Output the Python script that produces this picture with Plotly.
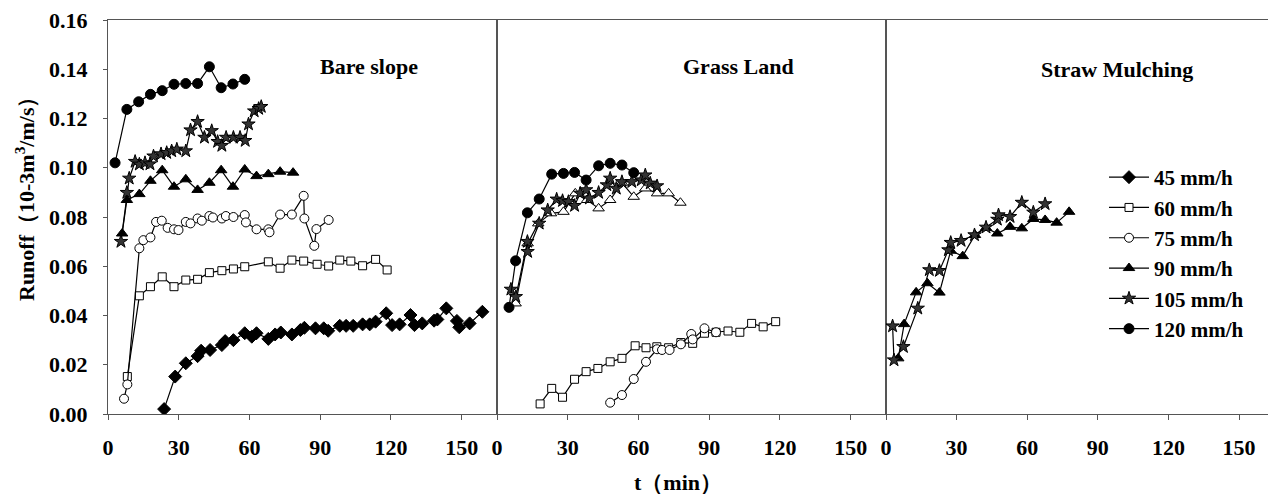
import plotly.graph_objects as go
from plotly.subplots import make_subplots

# ---------------- Data ----------------
# Bare slope
bare_45_t = [23.8, 28.5, 33, 38, 39.5, 43.3, 48.3, 49.7, 53.2, 58, 61, 63, 68, 70.9, 73.3, 78, 81.6, 83.3, 88, 91.5, 93.4,
             98.3, 101, 104, 108, 111, 113.5, 118, 120.5, 123.7, 128.3, 130, 133.3, 138.3, 139.7, 143.5, 148, 149, 153.4, 158.8]
bare_45_y = [0.002, 0.0152, 0.0206, 0.0235, 0.0257, 0.026, 0.028, 0.0296, 0.030, 0.0328, 0.0314, 0.0328, 0.0305, 0.0323, 0.0331,
             0.0323, 0.0341, 0.035, 0.0348, 0.0348, 0.0338, 0.0358, 0.0358, 0.0358, 0.0364, 0.0364, 0.0375, 0.0409, 0.0361, 0.0364,
             0.0402, 0.0361, 0.0368, 0.0379, 0.0384, 0.0429, 0.0378, 0.0352, 0.0368, 0.0415]

bare_60_t = [8.2, 13.3, 18, 23, 28, 33, 38, 43, 48.3, 53.2, 58, 68, 73, 78, 83, 88.7, 93.6, 98.3, 103, 108, 113.5, 118.4]
bare_60_y = [0.0152, 0.048, 0.0517, 0.0557, 0.0517, 0.0544, 0.0547, 0.0574, 0.0582, 0.0589, 0.0598, 0.0618, 0.0592, 0.0625,
             0.0621, 0.0608, 0.0601, 0.0625, 0.0621, 0.0602, 0.0628, 0.0585]

bare_75_t = [6.8, 8.2, 13.3, 15, 18, 20.4, 22.8, 25.3, 28, 29.9, 33, 35, 38, 39.8, 43, 44.5, 48.3, 50, 53.2, 58, 58.5,
             63, 68, 68.5, 73, 78, 83, 83.3, 87.5, 88.4, 93.6]
bare_75_y = [0.0062, 0.012, 0.0673, 0.0706, 0.0717, 0.078, 0.0785, 0.0756, 0.075, 0.0747, 0.078, 0.0774, 0.0794, 0.0785,
             0.0804, 0.0798, 0.0794, 0.0804, 0.0800, 0.0808, 0.0778, 0.075, 0.075, 0.0738, 0.081, 0.081, 0.0886, 0.0794,
             0.0683, 0.0751, 0.0788]

bare_90_t = [6, 8, 13.3, 18, 23, 28, 33, 38, 43, 48, 53, 58, 63, 68, 73, 78.5]
bare_90_y = [0.0733, 0.0869, 0.0893, 0.0947, 0.099, 0.0923, 0.0953, 0.091, 0.0939, 0.099, 0.0923, 0.0993, 0.0966, 0.0974,
             0.0984, 0.098]

bare_105_t = [5.5, 8, 9, 11.5, 13.3, 15.7, 17.8, 19.3, 22.5, 24.9, 27, 29.2, 33, 35, 38, 40.9, 44, 46.5, 48.3, 50.1, 53.2,
              56, 58.2, 59.6, 62, 63.9, 65]
bare_105_y = [0.070, 0.0899, 0.0957, 0.1025, 0.1014, 0.102, 0.1015, 0.1047, 0.1056, 0.1061, 0.1068, 0.1075, 0.1068, 0.1153,
              0.1187, 0.1123, 0.115, 0.1106, 0.109, 0.1123, 0.1123, 0.1123, 0.111, 0.1177, 0.123, 0.124, 0.1248]

bare_120_t = [3, 8, 13, 18, 23, 28, 33, 38, 43, 48, 53, 58]
bare_120_y = [0.102, 0.1237, 0.1268, 0.1298, 0.1313, 0.1339, 0.1342, 0.1342, 0.141, 0.1325, 0.134, 0.1359]

# Grass land
grass_60_t = [18.3, 23.2, 27.8, 32.9, 37.8, 42.8, 48, 53, 58.6, 63.2, 67.8, 72.8, 78, 83, 88, 92.9, 98, 103, 108, 112.9, 118.2]
grass_60_y = [0.0041, 0.0104, 0.0068, 0.0141, 0.0172, 0.0185, 0.0212, 0.0226, 0.0277, 0.0269, 0.0273, 0.0269, 0.029, 0.0287,
              0.0328, 0.0332, 0.0337, 0.0332, 0.0368, 0.0354, 0.0375]

grass_75_t = [48, 53, 58, 63.2, 67.9, 70, 73.2, 78, 82.4, 83, 88, 92.9]
grass_75_y = [0.0046, 0.0077, 0.0142, 0.0212, 0.0263, 0.026, 0.026, 0.0283, 0.0325, 0.0303, 0.0348, 0.0332]

grass_90_t = [7.9, 13, 17.5, 22.9, 28.2, 33.2, 38.2, 43.1, 48, 53, 58, 62.9, 67.9, 72.8, 77.8]
grass_90_y = [0.0449, 0.0693, 0.0774, 0.0815, 0.0821, 0.0896, 0.0869, 0.0835, 0.0869, 0.0939, 0.0882, 0.0916, 0.0896,
              0.0896, 0.0858]

grass_105_t = [5.9, 8, 12.9, 13, 17.9, 21.5, 25.3, 27.8, 30.3, 32.9, 35.3, 37.8, 39.2, 43.1, 46.6, 48, 50.6, 53, 57.2,
               61.2, 62.9, 65, 67.9]
grass_105_y = [0.0506, 0.0476, 0.070, 0.0659, 0.0774, 0.0828, 0.0872, 0.0866, 0.0862, 0.0846, 0.0896, 0.091, 0.0876,
               0.0899, 0.093, 0.0957, 0.0916, 0.0943, 0.0943, 0.095, 0.097, 0.0937, 0.0926]

grass_120_t = [5.1, 7.9, 12.9, 17.9, 23.2, 28.2, 32.9, 37.8, 43.1, 48, 53, 58]
grass_120_y = [0.0433, 0.0622, 0.0817, 0.0873, 0.0974, 0.0977, 0.0981, 0.095, 0.1008, 0.1018, 0.1011, 0.098]

# Straw mulching
straw_90_t = [5.2, 7.7, 12.8, 17.6, 22.7, 27.5, 32.6, 37.8, 42.5, 47.3, 52.7, 57.7, 62.6, 67.6, 72.5, 77.8]
straw_90_y = [0.0226, 0.0365, 0.0494, 0.0531, 0.0493, 0.0663, 0.0641, 0.0727, 0.0756, 0.0733, 0.076, 0.0754, 0.0792,
              0.0788, 0.0777, 0.0821]

straw_105_t = [2.8, 3.4, 7.4, 13.5, 18.4, 22.7, 26.5, 27.5, 31.9, 37.6, 42.5, 47.3, 47.8, 52.7, 57.7, 62.6, 67.6]
straw_105_y = [0.0357, 0.0219, 0.0273, 0.0429, 0.0585, 0.0582, 0.0666, 0.0696, 0.0704, 0.0727, 0.0758, 0.079, 0.0808,
               0.0801, 0.0859, 0.0819, 0.0853]

x_ticks = [0, 30, 60, 90, 120, 150]
y_ticks = [0.00, 0.02, 0.04, 0.06, 0.08, 0.10, 0.12, 0.14, 0.16]
panel_titles = ["Bare slope", "Grass Land", "Straw Mulching"]
legend_names = ["45 mm/h", "60 mm/h", "75 mm/h", "90 mm/h", "105 mm/h", "120 mm/h"]

# ---------------- Figure ----------------
FONT = "Times New Roman, Liberation Serif, serif"
AX = "#555555"

fig = make_subplots(rows=1, cols=3, shared_yaxes=True, horizontal_spacing=0,
                    column_widths=[389, 389, 382])

styles = {
    "45 mm/h": dict(symbol="diamond", size=10, color="black", line=dict(color="black", width=1)),
    "60 mm/h": dict(symbol="square", size=8, color="white", line=dict(color="black", width=1)),
    "75 mm/h": dict(symbol="circle", size=9, color="white", line=dict(color="black", width=1)),
    "90 mm/h": dict(symbol="triangle-up", size=10, color="black", line=dict(color="black", width=1)),
    "105 mm/h": dict(symbol="star", size=10, color="#333333", line=dict(color="black", width=1)),
    "120 mm/h": dict(symbol="circle", size=10, color="black", line=dict(color="black", width=1)),
}
open_tri = dict(symbol="triangle-up", size=10, color="white", line=dict(color="black", width=1))

def add(t, y, name, col, marker=None, show=False):
    fig.add_trace(go.Scatter(x=t, y=y, mode="lines+markers", name=name,
                             line=dict(color="black", width=1.2),
                             marker=marker or styles[name],
                             showlegend=show, legendgroup=name),
                  row=1, col=col)

# Bare slope
add(bare_45_t, bare_45_y, "45 mm/h", 1, show=True)
add(bare_60_t, bare_60_y, "60 mm/h", 1, show=True)
add(bare_75_t, bare_75_y, "75 mm/h", 1, show=True)
add(bare_90_t, bare_90_y, "90 mm/h", 1, show=True)
add(bare_105_t, bare_105_y, "105 mm/h", 1, show=True)
add(bare_120_t, bare_120_y, "120 mm/h", 1, show=True)
# Grass land
add(grass_60_t, grass_60_y, "60 mm/h", 2)
add(grass_75_t, grass_75_y, "75 mm/h", 2)
add(grass_90_t, grass_90_y, "90 mm/h", 2, marker=open_tri)
add(grass_105_t, grass_105_y, "105 mm/h", 2)
add(grass_120_t, grass_120_y, "120 mm/h", 2)
# Straw mulching
add(straw_90_t, straw_90_y, "90 mm/h", 3)
add(straw_105_t, straw_105_y, "105 mm/h", 3)

tickfont = dict(family=FONT, size=22, color="black", weight="bold")

x_ranges = [[0, 165], [0, 165], [0, 162.3]]
for i in range(3):
    fig.update_xaxes(range=x_ranges[i], tickvals=x_ticks, ticks="outside", ticklen=5, tickcolor=AX,
                     showline=True, linecolor=AX, linewidth=1, mirror=True, showgrid=False, zeroline=False,
                     tickfont=tickfont, ticklabelstandoff=9, automargin=False, row=1, col=i + 1)
fig.update_yaxes(range=[0, 0.16], tickvals=y_ticks, tickformat=".2f", ticks="outside", ticklen=4, tickcolor=AX,
                 showline=True, linecolor=AX, linewidth=1, mirror=True, showgrid=False, zeroline=False,
                 tickfont=tickfont, ticklabelstandoff=11, automargin=False, row=1, col=1)
fig.update_yaxes(range=[0, 0.16], showticklabels=False, ticks="", showline=True, linecolor=AX, linewidth=1,
                 mirror=True, showgrid=False, zeroline=False, automargin=False, row=1, col=2)
fig.update_yaxes(range=[0, 0.16], showticklabels=False, ticks="", showline=True, linecolor=AX, linewidth=1,
                 mirror=False, showgrid=False, zeroline=False, automargin=False, row=1, col=3)

# y-axis title (as rotated annotation, placed like the reference)
fig.add_annotation(x=(25 - 108) / 1160, y=(414 - 193) / 394, xref="paper", yref="paper",
                   text="Runoff（10-3m<sup>3</sup>/m/s）", textangle=-90, showarrow=False,
                   xanchor="center", yanchor="middle",
                   font=dict(family=FONT, size=22, color="black", weight="bold"))

# panel titles
title_pos = [(110.5, 0.1413), (102.4, 0.1413), (98.2, 0.1397)]
for i, (txt, (px, py)) in enumerate(zip(panel_titles, title_pos)):
    fig.add_annotation(x=px, y=py, xref=f"x{'' if i == 0 else i + 1}", yref="y", text=txt, showarrow=False,
                       font=dict(family=FONT, size=22, color="black", weight="bold"))

fig.add_annotation(x=(632 - 108) / 1160, y=(414 - 482) / 394, xref="paper", yref="paper", text="t（min）",
                   showarrow=False, font=dict(family=FONT, size=22, color="black", weight="bold"),
                   xanchor="left", yanchor="middle")

fig.update_layout(
    width=1268, height=494,
    margin=dict(l=108, r=0, t=20, b=80),
    paper_bgcolor="white", plot_bgcolor="white",
    showlegend=True,
    legend=dict(x=(1104 - 108) / 1160, y=(414 - 157) / 394, xanchor="left", yanchor="top",
                font=dict(family=FONT, size=21, color="black", weight="bold"), itemwidth=40,
                bgcolor="rgba(0,0,0,0)", tracegroupgap=0, traceorder="grouped"),
)

fig.write_html("out.html", config={"displayModeBar": False},
               post_script="document.body.style.margin='0';document.body.style.overflow='hidden';")
